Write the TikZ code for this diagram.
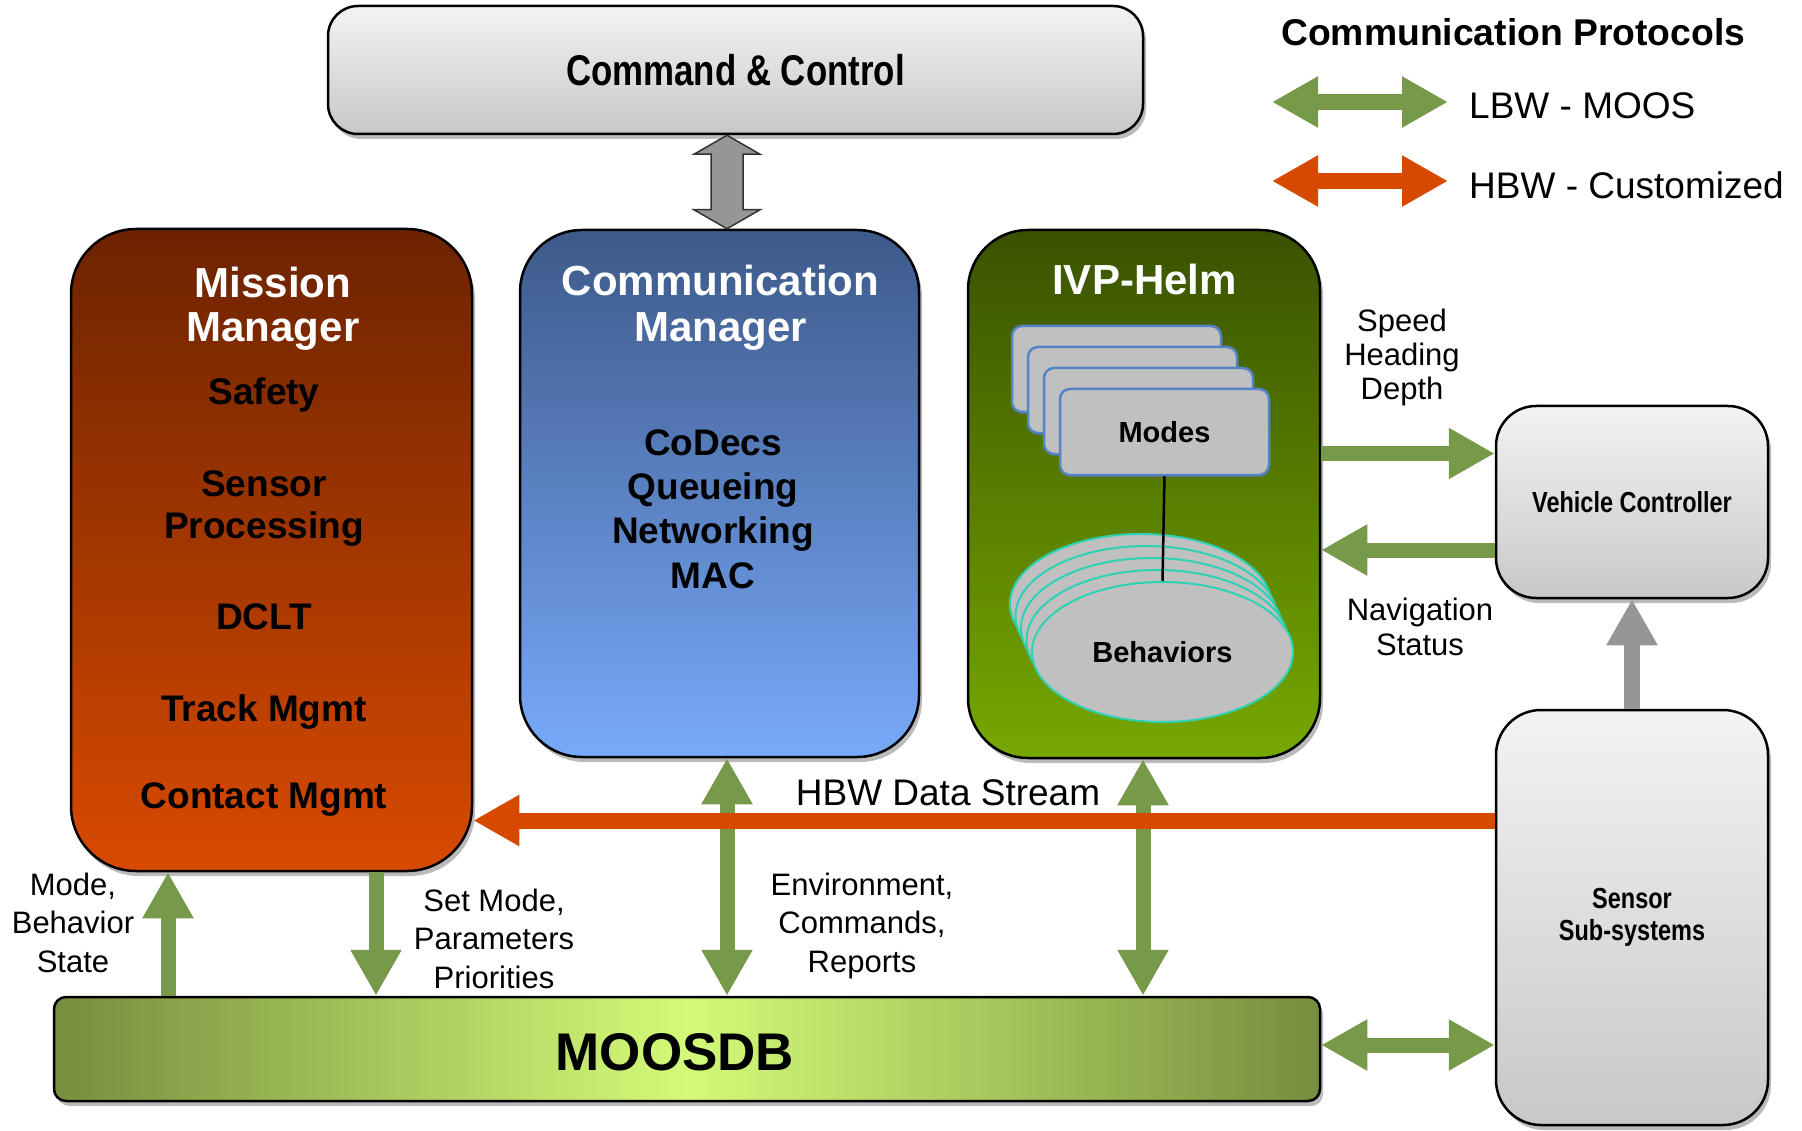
\documentclass[tikz,border=0pt]{standalone}
\usepackage{fontspec}
\setmainfont{Liberation Sans}
\newfontfamily\narrowfont[FakeStretch=0.81]{Liberation Sans}
\usepackage{graphicx}
\usetikzlibrary{arrows.meta,shapes.geometric,shadows,calc}
\definecolor{lbw}{RGB}{119,153,74}
\definecolor{hbw}{RGB}{216,73,0}
\definecolor{mmtop}{RGB}{108,35,0}
\definecolor{mmbot}{RGB}{217,74,0}
\definecolor{cmtop}{RGB}{61,89,138}
\definecolor{cmbot}{RGB}{120,170,250}
\definecolor{ivtop}{RGB}{58,82,0}
\definecolor{ivbot}{RGB}{118,168,0}
\definecolor{gtop}{RGB}{243,243,243}
\definecolor{gbot}{RGB}{200,200,200}
\definecolor{dbend}{RGB}{118,142,62}
\definecolor{dbmid}{RGB}{212,250,120}
\definecolor{arrgray}{RGB}{150,150,150}
\definecolor{modeedge}{RGB}{84,132,200}
\definecolor{modefill}{RGB}{192,192,192}
\definecolor{behedge}{RGB}{45,210,180}
\begin{document}
\begin{tikzpicture}[x=1pt,y=-1pt,
  >={Triangle[length=46pt,width=48pt]},
  box/.style={draw=black,line width=2.5pt,inner sep=0pt,
    drop shadow={shadow xshift=3pt,shadow yshift=-5pt,fill=black!60,opacity=0.45}},
  graybox/.style={box,top color=gtop,bottom color=gbot},
  title/.style={anchor=base,inner sep=0pt,align=center,text=white,font=\fontsize{42}{44.5}\selectfont\bfseries},
  body/.style={anchor=base,inner sep=0pt,align=center,font=\fontsize{37}{42}\selectfont\bfseries},
  lbl/.style={anchor=base,inner sep=0pt,align=center,font=\fontsize{31}{38.3}\selectfont},
  legtext/.style={anchor=base west,inner sep=0pt,font=\fontsize{37}{40}\selectfont},
  modebox/.style={draw=modeedge,fill=modefill,line width=2.5pt,rounded corners=10pt,
    minimum width=209pt,minimum height=86pt,inner sep=0pt,
    drop shadow={shadow xshift=1pt,shadow yshift=-3pt,fill=black!60,opacity=0.4}},
  behell/.style={ellipse,draw=behedge,fill=modefill,line width=2pt,
    minimum width=261pt,minimum height=140pt,inner sep=0pt},
  lbwarrow/.style={draw=lbw,line width=15pt},
  hbwarrow/.style={draw=hbw,line width=16pt},
  grayarrow/.style={draw=arrgray,line width=16pt},
  blockarrow/.style={fill=arrgray,draw=black!80,line width=1.5pt,line join=miter}
]
\useasboundingbox (0,0) rectangle (1802,1131);

% ---------- main boxes ----------
\node[graybox,rounded corners=30pt,minimum width=815pt,minimum height=128pt,
  font=\narrowfont\fontsize{43}{46}\selectfont\bfseries] (cc) at (735.5,70) {Command \& Control};
\node[box,rounded corners=65pt,top color=mmtop,bottom color=mmbot,
  minimum width=401pt,minimum height=642pt] (mission) at (271.5,550) {};
\node[box,rounded corners=62pt,top color=cmtop,bottom color=cmbot,
  minimum width=399pt,minimum height=527pt] (comm) at (719.5,493.5) {};
\node[box,rounded corners=60pt,top color=ivtop,bottom color=ivbot,
  minimum width=352pt,minimum height=528pt] (ivp) at (1144,494) {};
\node[graybox,rounded corners=40pt,minimum width=272pt,minimum height=192pt,
  font=\narrowfont\fontsize{29}{32}\selectfont\bfseries] (vc) at (1632,502) {Vehicle Controller};
\node[graybox,rounded corners=45pt,minimum width=272pt,minimum height=415pt,align=center,
  font=\narrowfont\fontsize{29}{32}\selectfont\bfseries] (sensor) at (1632,917.5) {Sensor\\Sub-systems};
\node[box,rounded corners=12pt,left color=dbend,right color=dbend,middle color=dbmid,
  minimum width=1266pt,minimum height=104pt] (moosdb) at (687,1049) {};
\node[anchor=base,inner sep=0pt,font=\fontsize{53}{56}\selectfont\bfseries] (moosdbtext) at (675,1070.5) {MOOSDB};

% ---------- Mission Manager text (multi-line nodes: base = last line) ----------
\node[title] (mmtitle) at (273,342) {Mission\\Manager};
\node[body] (mm1) at (264,405) {Safety};
\node[body] (mm2) at (264,538) {Sensor\\Processing};
\node[body] (mm3) at (264,629) {DCLT};
\node[body] (mm4) at (264,721) {Track Mgmt};
\node[body] (mm5) at (264,808) {Contact Mgmt};

% ---------- Communication Manager text ----------
\node[title,font=\fontsize{42}{45.5}\selectfont\bfseries] (cmtitle) at (720.5,341.5) {Communication\\Manager};
\node[body,font=\fontsize{37}{44.3}\selectfont\bfseries] (cmbody) at (713,588) {CoDecs\\Queueing\\Networking\\MAC};

% ---------- IVP-Helm ----------
\node[title] (ivptitle) at (1144.5,295) {IVP-Helm};
\node[modebox] (m1) at (1116.5,369) {};
\node[modebox] (m2) at (1132.5,390) {};
\node[modebox] (m3) at (1148.5,411) {};
\node[modebox,font=\fontsize{29}{32}\selectfont\bfseries] (modes) at (1164.5,432) {Modes};
\node[behell] (b1) at (1140.5,604) {};
\node[behell] (b2) at (1146,616) {};
\node[behell] (b3) at (1151.5,628) {};
\node[behell] (b4) at (1157,640) {};
\node[behell,font=\fontsize{29}{32}\selectfont\bfseries] (behaviors) at (1162.5,652) {Behaviors};
\draw[line width=2.5pt] (modes.south) -- (behaviors.north);

% ---------- gray block arrow Command & Control <-> Communication Manager ----------
\coordinate (xc) at (727,0);
\coordinate (gt) at (cc.south -| xc);
\coordinate (gb) at (comm.north -| xc);
\draw[blockarrow] (gt) -- ++(33,19) -- ++(-17,0) -- ($(gb)+(16,-19)$) -- ++(17,0) -- (gb)
  -- ++(-33,-19) -- ++(17,0) -- ($(gt)+(-16,19)$) -- ++(-17,0) -- cycle;

% ---------- connectors ----------
\coordinate (xa) at (168,0);
\coordinate (xb) at (376,0);
\coordinate (xd) at (1143,0);
\coordinate (xe) at (1632,0);
\coordinate (ya) at (0,453.5);
\coordinate (yb) at (0,550);
\coordinate (yc) at (0,1045);
\coordinate (yd) at (0,820.5);
\draw[lbwarrow,->] (moosdb.north -| xa) -- (mission.south -| xa);
\draw[lbwarrow,->] (mission.south -| xb) -- (moosdb.north -| xb);
\draw[lbwarrow,<->] (comm.south -| xc) -- (moosdb.north -| xc);
\draw[lbwarrow,<->] (ivp.south -| xd) -- (moosdb.north -| xd);
\draw[lbwarrow,->] (ivp.east |- ya) -- (vc.west |- ya);
\draw[lbwarrow,->] (vc.west |- yb) -- (ivp.east |- yb);
\draw[lbwarrow,<->] (moosdb.east |- yc) -- (sensor.west |- yc);
\draw[hbwarrow,->] (sensor.west |- yd) -- (mission.east |- yd);
\draw[grayarrow,->] (sensor.north -| xe) -- (vc.south -| xe);

% ---------- connector labels ----------
\node[anchor=base,inner sep=0pt,font=\fontsize{37}{40}\selectfont] (hbwlabel) at (948,805) {HBW Data Stream};
\node[lbl,font=\fontsize{31}{34}\selectfont] (shd) at (1402,400) {Speed\\Heading\\Depth};
\node[lbl,font=\fontsize{31}{35}\selectfont] (nav) at (1420,655) {Navigation\\Status};
\node[lbl] (mbs) at (73,972) {Mode,\\Behavior\\State};
\node[lbl] (smp) at (494,988) {Set Mode,\\Parameters\\Priorities};
\node[lbl] (ecr) at (862,972) {Environment,\\Commands,\\Reports};

% ---------- legend ----------
\node[legtext,font=\fontsize{37.3}{40}\selectfont\bfseries] (legtitle) at (1281,45.5) {Communication Protocols};
\coordinate (la) at (1272,102);
\coordinate (lb) at (1448,102);
\coordinate (ha) at (1272,181);
\coordinate (hb) at (1448,181);
\draw[lbwarrow,line width=16pt,<->] (la) -- (lb);
\draw[hbwarrow,<->] (ha) -- (hb);
\node[legtext] (lbwtext) at (1469,119) {LBW - MOOS};
\node[legtext] (hbwtext) at (1469,199) {HBW - Customized};
\end{tikzpicture}
\end{document}
